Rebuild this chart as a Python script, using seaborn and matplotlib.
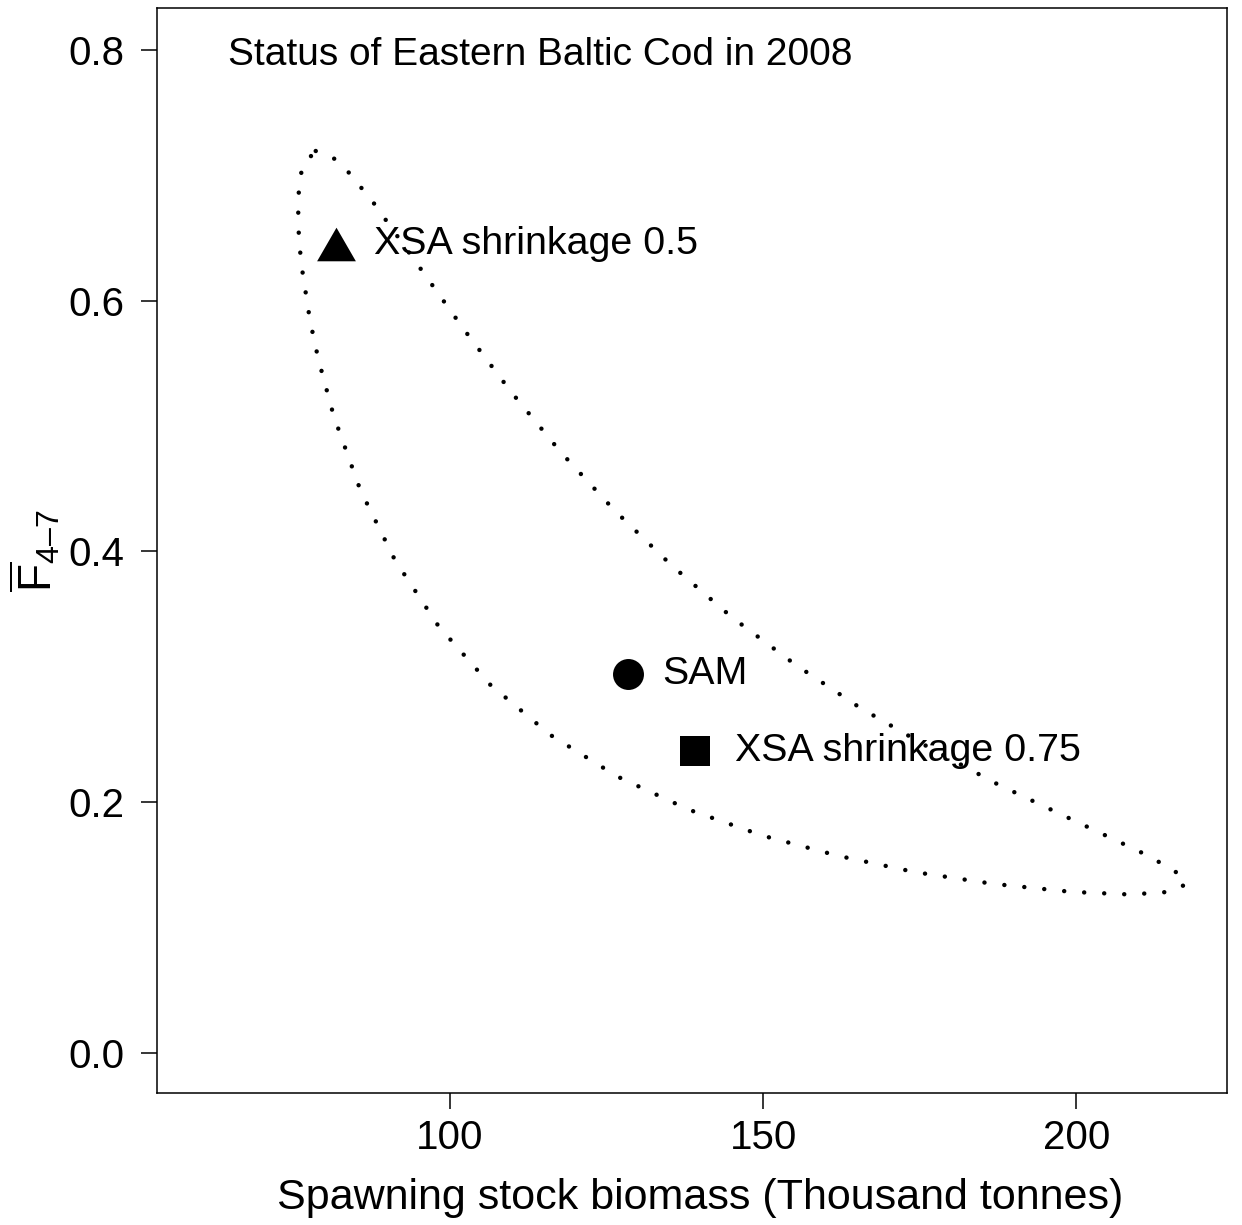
import numpy as np
import matplotlib
matplotlib.use('Agg')
import matplotlib.pyplot as plt
import seaborn as sns

# point estimates of SSB (thousand tonnes) and mean F ages 4-7
models = ['XSA shrinkage 0.5', 'SAM', 'XSA shrinkage 0.75']
ssb = [81.8, 128.4, 139.1]
fbar = [0.645, 0.302, 0.241]

# outline of the SAM confidence region
region_ssb = [78.55, 81.36, 83.66, 87.65, 94.94, 102.24, 109.79, 117.78, 126.31, 135.35,
              145.0, 155.06, 165.50, 176.41, 187.43, 198.77, 210.11, 215.65, 217.62, 214.86,
              208.63, 199.25, 186.74, 174.33, 162.03, 149.89, 138.07, 126.73, 116.02, 106.39,
              98.13, 91.21, 85.67, 81.42, 78.96, 77.64, 76.20, 75.72, 75.88, 76.52, 78.55]
region_f = [0.7194, 0.7139, 0.7032, 0.6790, 0.6280, 0.5769, 0.5270, 0.4786, 0.4325, 0.3890,
            0.3475, 0.3100, 0.2752, 0.2438, 0.2143, 0.1874, 0.1606, 0.1457, 0.1346, 0.1284,
            0.1263, 0.1284, 0.1348, 0.1441, 0.1571, 0.1733, 0.1941, 0.2204, 0.2536, 0.2938,
            0.3406, 0.3930, 0.4490, 0.5081, 0.5535, 0.5841, 0.6307, 0.6620, 0.6934, 0.7085, 0.7194]

sns.set_style('ticks')
plt.rcParams['font.family'] = ['Liberation Sans', 'DejaVu Sans']
plt.rcParams['mathtext.fontset'] = 'custom'
plt.rcParams['mathtext.rm'] = 'Liberation Sans'
plt.rcParams['mathtext.it'] = 'Liberation Sans'
plt.rcParams['mathtext.bf'] = 'Liberation Sans'
plt.rcParams['text.color'] = 'black'
plt.rcParams['axes.labelcolor'] = 'black'

fig = plt.figure(figsize=(12.42, 12.25), dpi=100)
ax = fig.add_axes([0.1264, 0.1078, 0.8616, 0.8857])

# dotted confidence region
sns.lineplot(x=region_ssb, y=region_f, sort=False, estimator=None, color='black',
             linewidth=3.2, linestyle=(0, (0.01, 4.5)), dash_capstyle='round', ax=ax)

tri = [(-1, -0.866), (1, -0.866), (0, 0.866)]
marker_styles = [tri, 'o', 's']
marker_sizes = [780, 497, 466]
offsets = [27, 25, 29]
for i in range(3):
    sns.scatterplot(x=[ssb[i]], y=[fbar[i]], marker=marker_styles[i], s=marker_sizes[i],
                    color='black', linewidth=0, ax=ax)
    ax.annotate(models[i], (ssb[i], fbar[i]), xytext=(offsets[i], 0), textcoords='offset points',
                ha='left', va='center', fontsize=28.4, color='black')

ax.text(0.066, 0.957, 'Status of Eastern Baltic Cod in 2008', transform=ax.transAxes,
        ha='left', va='center', fontsize=28, color='black')

ax.set_xlim(53.2, 224.1)
ax.set_ylim(-0.032, 0.8335)
ax.set_xticks([100, 150, 200])
ax.set_yticks([0.0, 0.2, 0.4, 0.6, 0.8])
ax.set_yticklabels(['0.0', '0.2', '0.4', '0.6', '0.8'])
ax.tick_params(axis='both', length=11.5, width=1.1, labelsize=29, color='black', labelcolor='black')
ax.tick_params(axis='y', pad=12)
ax.tick_params(axis='x', pad=7)
for sp in ax.spines.values():
    sp.set_visible(True)
    sp.set_linewidth(1.1)
    sp.set_color('black')

ax.set_xlabel('Spawning stock biomass (Thousand tonnes)', fontsize=31)
ax.xaxis.set_label_coords(0.5075, -0.0785)
ax.set_ylabel(r'$\overline{F}_{4\endash 7}$', fontsize=33, labelpad=4)

fig.savefig('out.png', dpi=100, facecolor='white')
